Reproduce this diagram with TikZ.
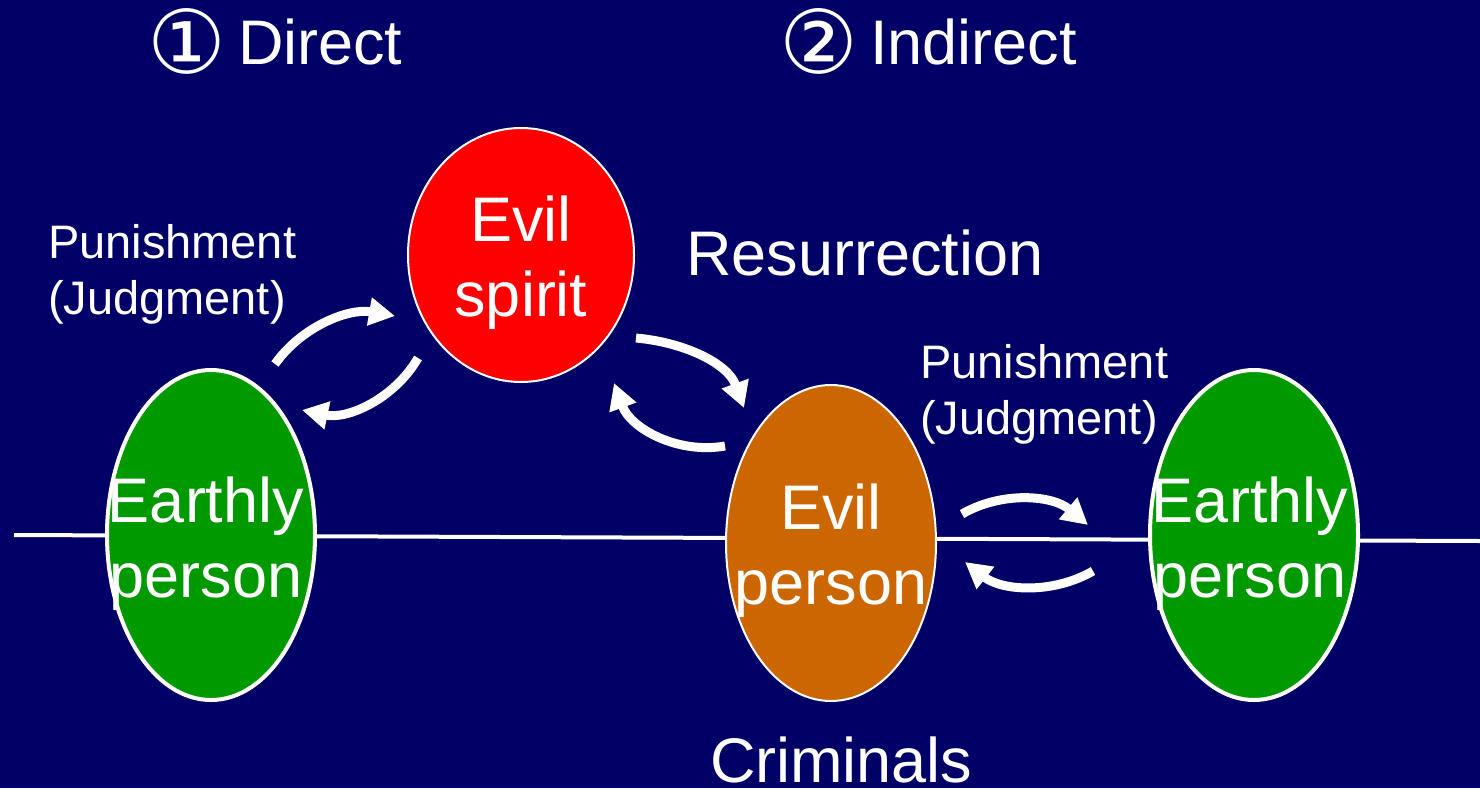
\documentclass[tikz,border=0pt]{standalone}
\usepackage{fontspec}
\setmainfont{Liberation Sans}
\newfontfamily\circfont{DejaVu Sans}
\usetikzlibrary{arrows.meta,shapes.geometric}
\definecolor{bgnavy}{RGB}{0,0,102}
\definecolor{earthgreen}{RGB}{0,153,0}
\definecolor{evilorange}{RGB}{204,102,0}
\definecolor{evilred}{RGB}{255,0,0}
\begin{document}
\begin{tikzpicture}[x=1pt,y=-1pt,
  txt/.style={text=white,inner sep=0pt,outer sep=0pt},
  big/.style={font=\fontsize{63}{75}\selectfont},
  small/.style={font=\fontsize{47}{56}\selectfont},
  circ/.style={font=\circfont\fontsize{88}{90}\selectfont},
  blob/.style={ellipse,draw=white,inner sep=0pt,outer sep=0pt},
  curv/.style={draw=white,line width=9pt,-{Triangle[length=26pt,width=27pt]}}]
\fill[bgnavy] (0,0) rectangle (1480,788);
\useasboundingbox (0,0) rectangle (1480,788);
% ground line
\coordinate (lL) at (14,535);
\coordinate (lR) at (1480,541);
\draw[white,line width=4pt] (lL) -- (lR);
% ellipses
\node[blob,fill=earthgreen,line width=4pt,minimum width=208pt,minimum height=330pt] (e1) at (211,535) {};
\node[blob,fill=evilred,line width=2pt,minimum width=226pt,minimum height=254pt] (es) at (521,255) {};
\node[blob,fill=evilorange,line width=2pt,minimum width=210pt,minimum height=316pt] (ep) at (831,543) {};
\node[blob,fill=earthgreen,line width=4pt,minimum width=208pt,minimum height=330pt] (e2) at (1254,535) {};
% texts (base anchor = last line baseline)
\node[txt,big,align=center,anchor=base] (t1) at (206,597) {Earthly\\person};
\node[txt,big,align=center,anchor=base] (ts) at (521,316) {Evil\\spirit};
\node[txt,big,align=center,anchor=base] (tp) at (831,604) {Evil\\person};
\node[txt,big,align=center,anchor=base] (t2) at (1250,597) {Earthly\\person};
\node[txt,circ,anchor=center] (c1) at (187,41) {①};
\node[txt,big,anchor=base west] (h1) at (238,64) {Direct};
\node[txt,circ,anchor=center] (c2) at (819,41) {②};
\node[txt,big,anchor=base west] (h2) at (870,64) {Indirect};
\node[txt,big,anchor=base west] (res) at (686,275) {Resurrection};
\node[txt,big,anchor=base west] (crim) at (710,782) {Criminals};
\node[txt,small,align=left,anchor=base west] (pun1) at (48,314) {Punishment\\(Judgment)};
\node[txt,small,align=left,anchor=base west] (pun2) at (920,434) {Punishment\\(Judgment)};
% arrows
\coordinate (a1s) at (275,364); \coordinate (a1c) at (302,326); \coordinate (a1d) at (349,308); \coordinate (a1e) at (395,316);
\coordinate (a2s) at (418,358); \coordinate (a2c) at (394.6,398.5); \coordinate (a2d) at (347.8,419.7); \coordinate (a2e) at (302,410);
\coordinate (a3s) at (636,338); \coordinate (a3c) at (683.6,342.2); \coordinate (a3d) at (727.7,363.1); \coordinate (a3e) at (744,408);
\coordinate (a4s) at (725,446); \coordinate (a4c) at (677.5,454.4); \coordinate (a4d) at (630.5,428.3); \coordinate (a4e) at (614,383);
\coordinate (a5s) at (962,514); \coordinate (a5c) at (1002.2,490.8); \coordinate (a5d) at (1052.5,495.2); \coordinate (a5e) at (1088,525);
\coordinate (a6s) at (1093,571); \coordinate (a6c) at (1052.6,594.4); \coordinate (a6d) at (1001.8,590.8); \coordinate (a6e) at (965,562);
\draw[curv] (a1s) .. controls (a1c) and (a1d) .. (a1e);
\draw[curv] (a2s) .. controls (a2c) and (a2d) .. (a2e);
\draw[curv] (a3s) .. controls (a3c) and (a3d) .. (a3e);
\draw[curv] (a4s) .. controls (a4c) and (a4d) .. (a4e);
\draw[curv] (a5s) .. controls (a5c) and (a5d) .. (a5e);
\draw[curv] (a6s) .. controls (a6c) and (a6d) .. (a6e);
\end{tikzpicture}
\end{document}
